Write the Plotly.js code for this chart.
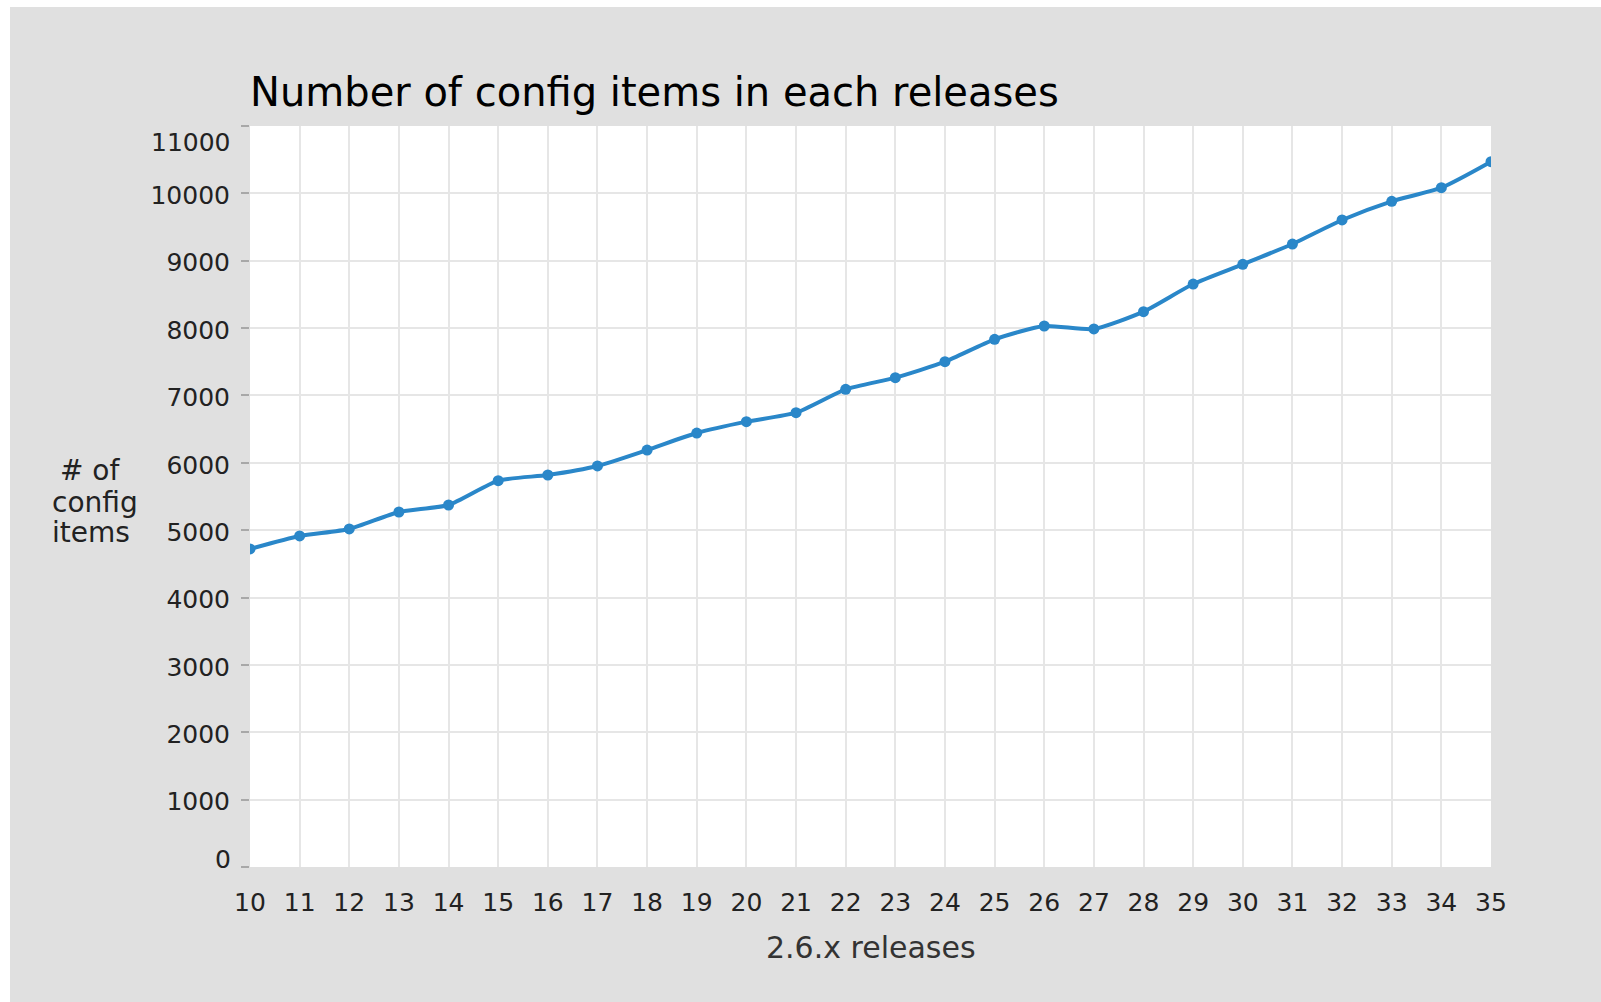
<!DOCTYPE html>
<html>
<head>
<meta charset="utf-8">
<script src="https://cdn.plot.ly/plotly-3.0.1.min.js"></script>
<style>
  html, body { margin: 0; padding: 0; background: #ffffff; overflow: hidden; }
  #chart { position: absolute; left: 10px; top: 7px; width: 1591px; height: 995px; }
</style>
</head>
<body>
<div id="chart"></div>
<script>
// Data
const releases = [10, 11, 12, 13, 14, 15, 16, 17, 18, 19, 20, 21, 22, 23, 24, 25, 26, 27, 28, 29, 30, 31, 32, 33, 34, 35];
const configItems = [4721, 4914, 5018, 5270, 5374, 5735, 5819, 5953, 6190, 6442, 6611, 6744, 7091, 7264, 7501, 7833, 8031, 7987, 8244, 8654, 8947, 9248, 9605, 9882, 10084, 10470];
const yTickVals = [0, 1000, 2000, 3000, 4000, 5000, 6000, 7000, 8000, 9000, 10000, 11000];
const yTickLabels = ["0", "1000", "2000", "3000", "4000", "5000", "6000", "7000", "8000", "9000", "10000", "11000"];
const xTickLabels = releases.map(String);
const titleText = "Number of config items in each releases";
const xTitleLines = ["2.6.x releases"];
const yTitleLines = ["# of", "config", "items"];

// plot area in page pixels (for placing free text)
const PL = 250, PR = 1491, PT = 126, PB = 867;
const px = x => (x - PL) / (PR - PL);
const py = y => (PB - y) / (PB - PT);

const FONT = "DejaVu Sans";

// end labels of y axis are nudged inside the plot range in the reference
const lastIdx = yTickLabels.length - 1;
const yTickText = yTickLabels.map((t, i) => (i === 0 || i === lastIdx) ? "" : t);

const annotations = [];
annotations.push({
  text: yTickLabels[0], xref: "paper", yref: "paper",
  x: px(233), y: py(859.5), xanchor: "right", yanchor: "middle",
  showarrow: false, font: {family: FONT, size: 25, color: "#222222"}
});
annotations.push({
  text: yTickLabels[lastIdx], xref: "paper", yref: "paper",
  x: px(233), y: py(142), xanchor: "right", yanchor: "middle",
  showarrow: false, font: {family: FONT, size: 25, color: "#222222"}
});
const yTitleX = [90, 95, 90.5];
const yTitleY = [470.3, 502.3, 532.3];
yTitleLines.forEach((t, i) => {
  annotations.push({
    text: t, xref: "paper", yref: "paper",
    x: px(yTitleX[i]), y: py(yTitleY[i]), xanchor: "center", yanchor: "middle",
    showarrow: false, font: {family: FONT, size: 28, color: "#222222"}
  });
});
annotations.push({
  text: xTitleLines[0], xref: "paper", yref: "paper",
  x: 0.5, y: py(947.6), xanchor: "center", yanchor: "middle",
  showarrow: false, font: {family: FONT, size: 30, color: "#333333"}
});

const trace = {
  x: releases,
  y: configItems,
  type: "scatter",
  mode: "lines+markers",
  line: {color: "#2a87c9", width: 4, shape: "spline", smoothing: 0.6},
  marker: {color: "#2a87c9", size: 11},
  hoverinfo: "x+y"
};

const layout = {
  width: 1591,
  height: 995,
  margin: {l: 240, r: 110, t: 119, b: 135, pad: 0},
  paper_bgcolor: "#e0e0e0",
  plot_bgcolor: "#ffffff",
  showlegend: false,
  title: {
    text: titleText,
    font: {family: FONT, size: 40, color: "#000000"},
    x: 0, xref: "paper", xanchor: "left",
    y: 1, yref: "paper", yanchor: "bottom",
    pad: {b: 20}
  },
  xaxis: {
    range: [10, 35],
    tickmode: "array",
    tickvals: releases,
    ticktext: xTickLabels,
    showgrid: true,
    gridcolor: "#e6e6e6",
    gridwidth: 2,
    zeroline: false,
    showline: false,
    ticks: "",
    ticklabelstandoff: 18,
    tickfont: {family: FONT, size: 25, color: "#222222"},
    fixedrange: true
  },
  yaxis: {
    range: [0, 11000],
    tickmode: "array",
    tickvals: yTickVals,
    ticktext: yTickText,
    showgrid: true,
    gridcolor: "#e6e6e6",
    gridwidth: 2,
    zeroline: false,
    showline: false,
    ticks: "outside",
    ticklen: 8,
    tickwidth: 2,
    tickcolor: "#a8a8a8",
    ticklabelstandoff: 6,
    ticklabelshift: 2,
    tickfont: {family: FONT, size: 25, color: "#222222"},
    fixedrange: true
  },
  annotations: annotations
};

Plotly.newPlot("chart", [trace], layout, {displayModeBar: false, staticPlot: true});
</script>
</body>
</html>
